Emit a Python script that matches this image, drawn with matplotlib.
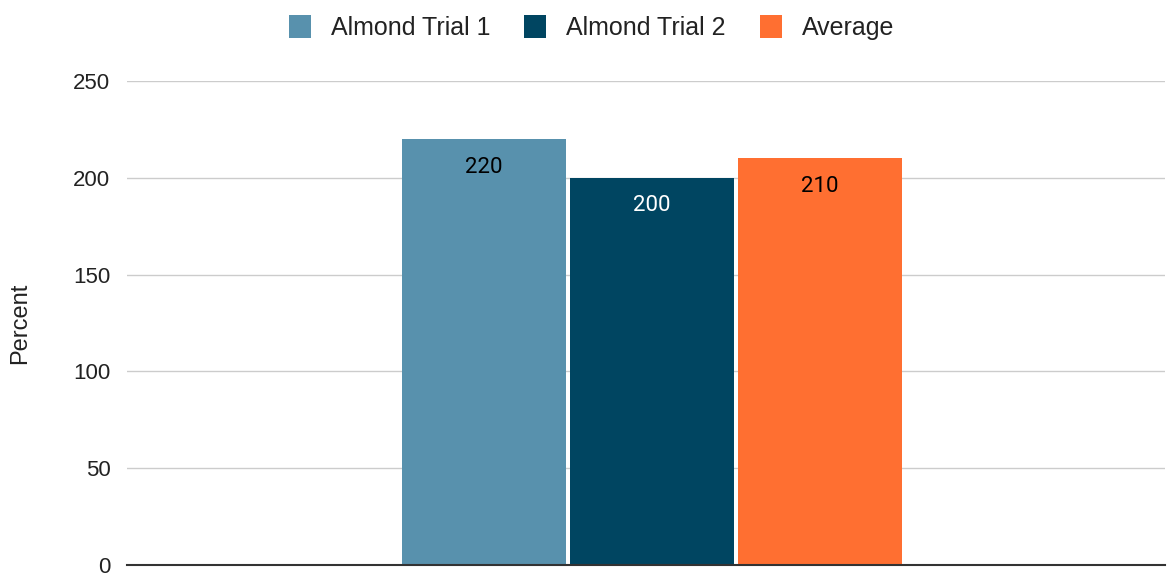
import matplotlib
matplotlib.use("Agg")
import matplotlib.pyplot as plt
from matplotlib.patches import Patch

series = ["Almond Trial 1", "Almond Trial 2", "Average"]
values = [220, 200, 210]
colors = ["#5891AD", "#004561", "#FF6F31"]
label_colors = ["#000000", "#FFFFFF", "#000000"]
yticks = [0, 50, 100, 150, 200, 250]

plt.rcParams['font.family'] = ['Liberation Sans', 'DejaVu Sans']

fig = plt.figure(figsize=(11.67, 5.76), dpi=100)
ax = fig.add_axes([127/1167, 11/576, 1038/1167, 484/576])

positions = [-1, 0, 1]
bars = ax.bar(positions, values, width=164/168, color=colors, zorder=3)
for b, v, lc in zip(bars, values, label_colors):
    ax.text(b.get_x() + b.get_width()/2, v - 14.5, str(v), ha='center', va='center',
            color=lc, fontsize=16, family=['Roboto', 'DejaVu Sans'], zorder=4)

ax.set_xlim(-3.125, 3.054)
ax.set_ylim(0, 250)
ax.set_yticks(yticks)
ax.set_yticklabels([str(t) for t in yticks], fontsize=16, color='#222222')
ax.set_xticks([])
ax.tick_params(axis='y', length=0, pad=12)
ax.grid(axis='y', color='#CCCCCC', linewidth=1, zorder=0)
for s in ['top', 'right', 'left']:
    ax.spines[s].set_visible(False)
ax.spines['bottom'].set_color('#333333')
ax.spines['bottom'].set_linewidth(1.5)
ax.spines['bottom'].set_zorder(5)
ax.set_ylabel("Percent", fontsize=17, color='#222222')
ax.yaxis.set_label_coords(-0.092, 0.5)

handles = [Patch(facecolor=c, edgecolor='none') for c in colors]
fig.legend(handles, series, loc='upper center', bbox_to_anchor=(0.507, 1.013), ncol=3,
           frameon=False, fontsize=18, handlelength=0.88, handleheight=1.04,
           handletextpad=0.8, columnspacing=1.36, labelcolor='#222222')

fig.savefig("out.png", dpi=100, facecolor='white')
